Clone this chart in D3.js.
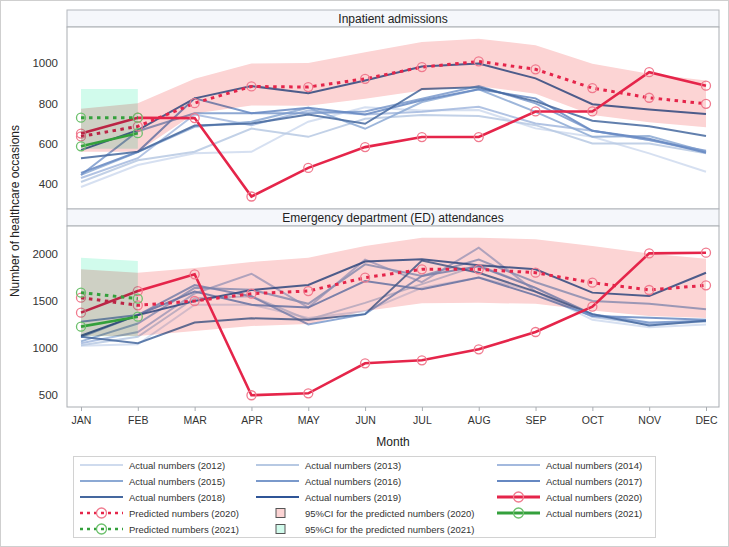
<!DOCTYPE html>
<html>
<head>
<meta charset="utf-8">
<script src="https://cdn.jsdelivr.net/npm/d3@7"></script>
<style>
  body { margin: 0; background: #fff; }
  text { font-family: "Liberation Sans", Arial, sans-serif; }
</style>
</head>
<body>
<svg id="chart" width="729" height="547"></svg>
<script>
const months = ["JAN", "FEB", "MAR", "APR", "MAY", "JUN", "JUL", "AUG", "SEP", "OCT", "NOV", "DEC"];
const pastYears = [2012, 2013, 2014, 2015, 2016, 2017, 2018, 2019];

// Inpatient admissions, actual numbers 2012-2019
const ip2012 = [385, 494, 553, 560, 709, 781, 765, 767, 676, 634, 552, 461];
const ip2013 = [410, 518, 560, 675, 634, 724, 742, 737, 692, 601, 601, 552];
const ip2014 = [430, 528, 745, 692, 765, 745, 758, 783, 700, 664, 618, 558];
const ip2015 = [445, 558, 684, 709, 778, 674, 807, 870, 758, 634, 638, 560];
const ip2016 = [445, 662, 751, 751, 751, 760, 823, 886, 800, 664, 618, 565];
const ip2017 = [455, 560, 825, 751, 778, 745, 816, 870, 825, 664, 625, 555];
const ip2018 = [528, 560, 690, 700, 745, 699, 872, 880, 810, 714, 687, 638];
const ip2019 = [568, 667, 825, 886, 850, 914, 983, 998, 924, 796, 770, 747];
const ipActual2020 = [650, 729, 727, 338, 480, 583, 633, 633, 760, 760, 955, 888];
const ipPred2020 = [636, 686, 801, 884, 881, 922, 980, 1008, 969, 876, 828, 798];
const ipLow2020 = [560, 560, 750, 790, 788, 823, 864, 885, 848, 742, 707, 682];
const ipHigh2020 = [773, 801, 922, 998, 1000, 1054, 1104, 1121, 1088, 997, 947, 914];
const ipActual2021 = [587, 652];
const ipPred2021 = [729, 729];
const ipLow2021 = [575, 575];
const ipHigh2021 = [872, 872];

// Emergency department attendances, actual numbers 2012-2019
const ed2012 = [1025, 1040, 1460, 1460, 1320, 1390, 1640, 1750, 1600, 1300, 1220, 1250];
const ed2013 = [1030, 1120, 1530, 1550, 1300, 1480, 1680, 1880, 1640, 1330, 1250, 1280];
const ed2014 = [1050, 1170, 1580, 1790, 1430, 1940, 1700, 2067, 1600, 1340, 1260, 1290];
const ed2015 = [1070, 1260, 1640, 1620, 1470, 1890, 1766, 1940, 1700, 1500, 1470, 1412];
const ed2016 = [1115, 1350, 1670, 1550, 1250, 1360, 1766, 1870, 1640, 1360, 1270, 1290];
const ed2017 = [1280, 1351, 1600, 1460, 1430, 1713, 1624, 1750, 1560, 1340, 1322, 1300];
const ed2018 = [1120, 1050, 1270, 1316, 1300, 1360, 1930, 1800, 1600, 1360, 1240, 1290];
const ed2019 = [1130, 1350, 1500, 1617, 1670, 1920, 1943, 1880, 1837, 1589, 1553, 1801];
const edActual2020 = [1376, 1606, 1784, 497, 518, 837, 869, 986, 1170, 1440, 2007, 2014];
const edPred2020 = [1535, 1454, 1500, 1578, 1606, 1748, 1837, 1837, 1801, 1695, 1617, 1667];
const edLow2020 = [1128, 1128, 1181, 1234, 1255, 1393, 1475, 1480, 1470, 1400, 1340, 1320];
const edHigh2020 = [1837, 1801, 1850, 1915, 1961, 2085, 2174, 2174, 2156, 2085, 2005, 1950];
const edActual2021 = [1227, 1333];
const edPred2021 = [1589, 1525];
const edLow2021 = [1125, 1125];
const edHigh2021 = [1961, 1925];

const yearColors = ["#cfdbee", "#b7c9e3", "#a3b9de", "#8ca9d4", "#7a99cb", "#6688c2", "#45689f", "#2f5597"];
const red = "#e5254a", redMark = "#f07a8e";
const green = "#34a03c", greenMark = "#6cc06c";
const pinkBand = "#fcd4d4", mintBand = "#d1fbec";

const svg = d3.select("#chart");
svg.append("rect").attr("x", 0.5).attr("y", 0.5).attr("width", 728).attr("height", 546)
  .attr("fill", "#fff").attr("stroke", "#cfcfcf");

const x = d3.scalePoint().domain(months).range([81, 706]);
const plotLeft = 67, plotRight = 719;

const panels = [
  {
    title: "Inpatient admissions", headTop: 10, top: 27, bottom: 209, domain: [276, 1179],
    ticks: [400, 600, 800, 1000],
    past: [ip2012, ip2013, ip2014, ip2015, ip2016, ip2017, ip2018, ip2019],
    actual2020: ipActual2020, pred2020: ipPred2020, low2020: ipLow2020, high2020: ipHigh2020,
    actual2021: ipActual2021, pred2021: ipPred2021, low2021: ipLow2021, high2021: ipHigh2021
  },
  {
    title: "Emergency department (ED) attendances", headTop: 209, top: 226, bottom: 407, domain: [372, 2298],
    ticks: [500, 1000, 1500, 2000],
    past: [ed2012, ed2013, ed2014, ed2015, ed2016, ed2017, ed2018, ed2019],
    actual2020: edActual2020, pred2020: edPred2020, low2020: edLow2020, high2020: edHigh2020,
    actual2021: edActual2021, pred2021: edPred2021, low2021: edLow2021, high2021: edHigh2021
  }
];

panels.forEach((p, pi) => {
  const y = d3.scaleLinear().domain(p.domain).range([p.bottom, p.top]);
  const g = svg.append("g");

  // header strip
  g.append("rect").attr("x", plotLeft).attr("y", p.headTop).attr("width", plotRight - plotLeft)
    .attr("height", p.top - p.headTop).attr("fill", "#f5f7fb").attr("stroke", "#b4b8bd");
  g.append("text").attr("x", (plotLeft + plotRight) / 2).attr("y", (p.headTop + p.top) / 2 + 4)
    .attr("text-anchor", "middle").attr("font-size", 12).attr("fill", "#222").text(p.title);

  g.append("clipPath").attr("id", "clip" + pi).append("rect")
    .attr("x", plotLeft).attr("y", p.top).attr("width", plotRight - plotLeft).attr("height", p.bottom - p.top);
  const area = g.append("g").attr("clip-path", `url(#clip${pi})`).style("isolation", "isolate");
  area.append("rect").attr("x", plotLeft).attr("y", p.top).attr("width", plotRight - plotLeft)
    .attr("height", p.bottom - p.top).attr("fill", "#fff");

  const line = d3.line().x((d, i) => x(months[i])).y(d => y(d));
  const band = (lo, hi) => d3.area().x((d, i) => x(months[i])).y0((d, i) => y(lo[i])).y1((d, i) => y(hi[i]))(lo);

  // past years
  area.selectAll("path.past").data(p.past).join("path").attr("class", "past")
    .attr("d", d => line(d)).attr("fill", "none")
    .attr("stroke", (d, i) => yearColors[i]).attr("stroke-width", 2).attr("opacity", 0.85);

  // 2020 confidence band (blended over the history lines)
  area.append("path").attr("d", band(p.low2020, p.high2020)).attr("fill", pinkBand)
    .style("mix-blend-mode", "multiply");

  const series = (vals, col, mark, dashed) => {
    area.append("path").attr("d", line(vals)).attr("fill", "none").attr("stroke", col)
      .attr("stroke-width", dashed ? 3 : 2.6).attr("stroke-dasharray", dashed ? "3.5,4.5" : null);
    area.selectAll(null).data(vals).join("circle")
      .attr("cx", (d, i) => x(months[i])).attr("cy", d => y(d)).attr("r", 4.5)
      .attr("fill", "none").attr("stroke", mark).attr("stroke-width", 1.3);
  };
  series(p.pred2020, red, redMark, true);
  series(p.actual2020, red, redMark, false);

  // 2021 confidence band
  area.append("path").attr("d", band(p.low2021, p.high2021)).attr("fill", mintBand)
    .style("mix-blend-mode", "multiply");

  series(p.pred2021, green, greenMark, true);
  series(p.actual2021, green, greenMark, false);

  // frame
  g.append("rect").attr("x", plotLeft).attr("y", p.top).attr("width", plotRight - plotLeft)
    .attr("height", p.bottom - p.top).attr("fill", "none").attr("stroke", "#a9adb2");

  // y axis
  const ya = g.append("g").attr("transform", `translate(${plotLeft},0)`)
    .call(d3.axisLeft(y).tickValues(p.ticks).tickSize(0).tickPadding(9).tickFormat(d3.format("d")));
  ya.select(".domain").remove();
  ya.selectAll("text").attr("font-size", 11.5).attr("fill", "#333");
});

// x axis below lower panel
const xa = svg.append("g").attr("transform", "translate(0,407)")
  .call(d3.axisBottom(x).tickSize(4).tickPadding(6));
xa.select(".domain").remove();
xa.selectAll("line").attr("stroke", "#a9adb2");
xa.selectAll("text").attr("font-size", 10.5).attr("fill", "#333");

svg.append("text").attr("x", 393).attr("y", 446).attr("text-anchor", "middle")
  .attr("font-size", 12).attr("fill", "#222").text("Month");
svg.append("text").attr("transform", "translate(19,211) rotate(-90)").attr("text-anchor", "middle")
  .attr("font-size", 12).attr("fill", "#222").text("Number of healthcare occasions");

// legend
const legend = svg.append("g");
legend.append("rect").attr("x", 73.5).attr("y", 456.5).attr("width", 582).attr("height", 81)
  .attr("fill", "#fff").attr("stroke", "#d2d2d2");

const colX = [80, 256, 497];
const rowY = [465, 481, 497, 513, 529];
const items = pastYears.map((yr, i) => ({ label: `Actual numbers (${yr})`, type: "line", color: yearColors[i] }));
items.push({ label: "Actual numbers (2020)", type: "solid", color: red, mark: redMark });
items.push({ label: "Predicted numbers (2020)", type: "dotted", color: red, mark: redMark });
items.push({ label: "95%CI for the predicted numbers (2020)", type: "box", color: pinkBand });
items.push({ label: "Actual numbers (2021)", type: "solid", color: green, mark: greenMark });
items.push({ label: "Predicted numbers (2021)", type: "dotted", color: green, mark: greenMark });
items.push({ label: "95%CI for the predicted numbers (2021)", type: "box", color: mintBand });

items.forEach((it, i) => {
  const cx = colX[i % 3], cy = rowY[Math.floor(i / 3)];
  const lg = legend.append("g");
  if (it.type === "line") {
    lg.append("line").attr("x1", cx).attr("x2", cx + 43).attr("y1", cy).attr("y2", cy)
      .attr("stroke", it.color).attr("stroke-width", 2);
  } else if (it.type === "solid" || it.type === "dotted") {
    lg.append("line").attr("x1", cx).attr("x2", cx + 43).attr("y1", cy).attr("y2", cy)
      .attr("stroke", it.color).attr("stroke-width", it.type === "solid" ? 3 : 2.6)
      .attr("stroke-dasharray", it.type === "dotted" ? "3,4" : null);
    lg.append("circle").attr("cx", cx + 21.5).attr("cy", cy).attr("r", 5)
      .attr("fill", "none").attr("stroke", it.mark).attr("stroke-width", 1.3);
  } else {
    lg.append("rect").attr("x", cx + 20).attr("y", cy - 4.5).attr("width", 9).attr("height", 9)
      .attr("fill", it.color).attr("stroke", "#555").attr("stroke-width", 1);
  }
  lg.append("text").attr("x", cx + 49).attr("y", cy + 3.5).attr("font-size", 9.5)
    .attr("fill", "#333").text(it.label);
});
</script>
</body>
</html>
